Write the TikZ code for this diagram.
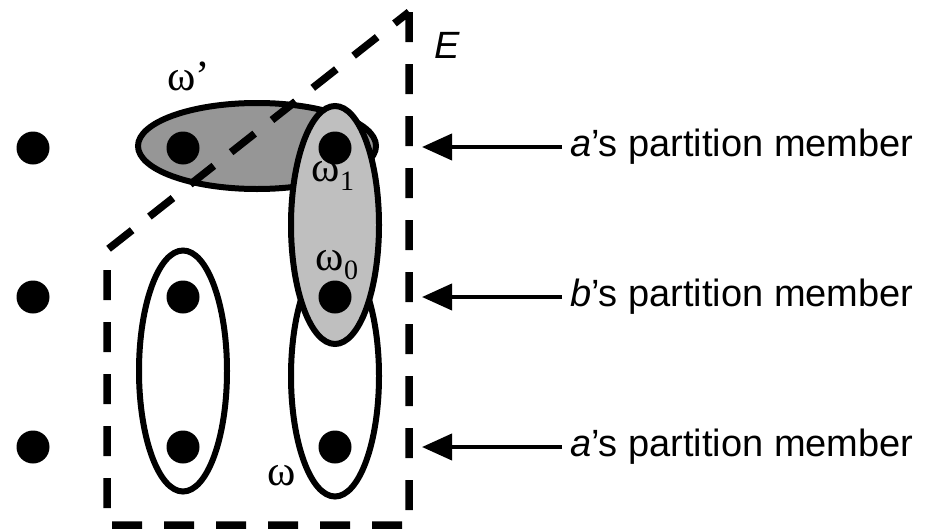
\documentclass[tikz,border=0pt]{standalone}
\usepackage{fontspec}
\setmainfont{Liberation Serif}
\setsansfont{Liberation Sans}
\usetikzlibrary{shapes.geometric,arrows.meta}
\tikzset{
  pt/.style={circle,fill=black,inner sep=0pt,minimum size=33pt},
  cell/.style={ellipse,draw=black,line width=6pt,inner sep=0pt},
  evt/.style={line width=7.5pt,dash pattern=on 30pt off 22pt},
  lbl/.style={font=\sffamily\fontsize{38}{40}\selectfont,anchor=west,inner sep=0pt,outer sep=8pt},
  arr/.style={line width=4pt,-{Triangle[length=30pt,width=26pt]}},
  om/.style={font=\fontsize{43}{43}\selectfont,inner sep=0pt}
}
\newcommand{\subdigit}[1]{\raisebox{-0.2em}{\fontsize{28}{28}\selectfont #1}}
\begin{document}
\begin{tikzpicture}[x=1pt,y=-1pt]
\useasboundingbox (0,0) rectangle (934,530);

% partition cells
\node[cell,fill=white,minimum width=88pt,minimum height=241pt] (wl) at (183,371) {};
\node[cell,fill=white,minimum width=88pt,minimum height=241pt] (wr) at (335,376) {};
\node[cell,fill=black!41,minimum width=238pt,minimum height=86pt] (wp) at (257,146) {};

% event E
\draw[evt] (409,12) -- (409,525) -- (107,525) -- (107,250) -- cycle;

\node[cell,fill=black!25,minimum width=88pt,minimum height=238pt] (w01) at (335,225) {};

% states
\foreach \r/\y in {1/148,2/297,3/447}{
  \node[pt] (l\r) at (33,\y) {};
  \node[pt] (m\r) at (183,\y) {};
  \node[pt] (r\r) at (335,\y) {};
}

% state labels
\node[om] (lp) at (189,76) {ω’};
\node[om] (l1) at (333,176) {ω\subdigit{1}};
\node[om] (l0) at (337,265) {ω\subdigit{0}};
\node[om] (lw) at (282,476) {ω};
\node[font=\sffamily\itshape\fontsize{38}{40}\selectfont,inner sep=0pt] (E) at (447,45) {E};

% partition annotations
\node[lbl] (t1) at (562,147) {\textit{a}’s partition member};
\node[lbl] (t2) at (562,297) {\textit{b}’s partition member};
\node[lbl] (t3) at (562,447) {\textit{a}’s partition member};
\coordinate (p1) at (422,147);
\coordinate (p2) at (422,297);
\coordinate (p3) at (422,447);
\draw[arr] (t1) -- (p1);
\draw[arr] (t2) -- (p2);
\draw[arr] (t3) -- (p3);
\end{tikzpicture}
\end{document}
